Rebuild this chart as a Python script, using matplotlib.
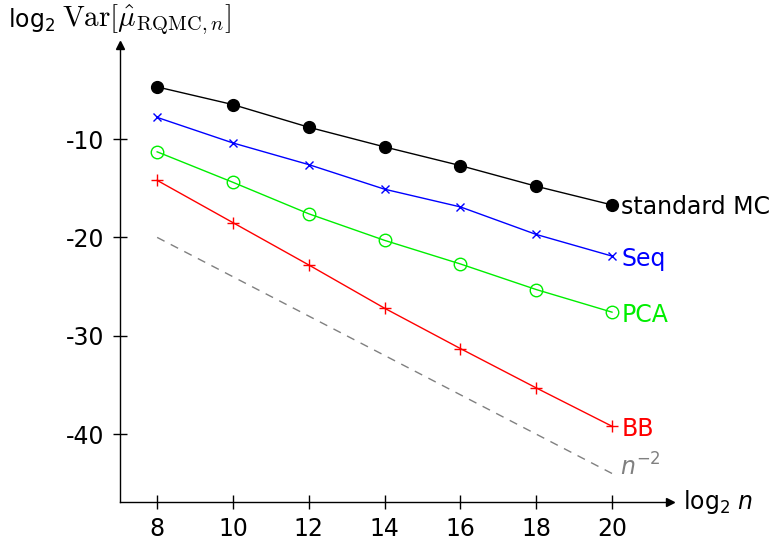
import numpy as np
import matplotlib.pyplot as plt

plt.rcParams['font.family'] = ['DejaVu Sans']
plt.rcParams['mathtext.fontset'] = 'dejavusans'
plt.rcParams['axes.unicode_minus'] = False

log2_n = [8, 10, 12, 14, 16, 18, 20]
std_mc = [-4.7, -6.5, -8.8, -10.8, -12.7, -14.8, -16.7]
seq = [-7.8, -10.4, -12.6, -15.1, -16.9, -19.7, -21.9]
pca = [-11.3, -14.4, -17.6, -20.3, -22.7, -25.3, -27.6]
bb = [-14.2, -18.5, -22.8, -27.2, -31.3, -35.3, -39.2]
ref_x = [8, 20]
ref_y = [-20, -44]

fig = plt.figure(figsize=(7.81, 5.43), dpi=100)
ax = fig.add_axes([120 / 781, 1 - 502 / 543, 550 / 781, 457 / 543])

ax.plot(log2_n, std_mc, color='black', lw=1, marker='o', ms=8.5, clip_on=False)
ax.plot(log2_n, seq, color='blue', lw=1, marker='x', ms=6, mew=1, clip_on=False)
ax.plot(log2_n, pca, color='#00ee00', lw=1, marker='o', ms=9, mfc='none', mew=1, clip_on=False)
ax.plot(log2_n, bb, color='red', lw=1, marker='+', ms=9, mew=1, clip_on=False)
ax.plot(ref_x, ref_y, color='gray', lw=1, ls=(0, (6, 5)))

fs = 17
ax.text(20.25, std_mc[-1], 'standard MC', color='black', fontsize=fs, va='center_baseline', ha='left')
ax.text(20.25, seq[-1], 'Seq', color='blue', fontsize=fs, va='center_baseline', ha='left')
ax.text(20.25, pca[-1], 'PCA', color='#00ee00', fontsize=fs, va='center_baseline', ha='left')
ax.text(20.25, bb[-1], 'BB', color='red', fontsize=fs, va='center_baseline', ha='left')
ax.text(20.2, ref_y[-1] + 0.7, r'$n^{-2}$', color='gray', fontsize=fs, va='center', ha='left')

ax.set_xlim(7.02, 21.53)
ax.set_ylim(-46.9, -0.44)
ax.set_xticks(log2_n)
ax.set_yticks([-10, -20, -30, -40])
ax.tick_params(direction='inout', length=10, width=1, labelsize=fs, pad=6)
for s in ['top', 'right']:
    ax.spines[s].set_visible(False)
for s in ['left', 'bottom']:
    ax.spines[s].set_linewidth(1)

# arrow heads
ax.plot(1, 0, '>k', ms=6, transform=ax.transAxes, clip_on=False)
ax.plot(0, 1, '^k', ms=6, transform=ax.transAxes, clip_on=False)

fig.text(683 / 781, 1 - 502 / 543, r'log$_2$ $n$', fontsize=fs, va='center', ha='left')
fig.text(8 / 781, 1 - 20 / 543, 'log$_2$', fontsize=fs, va='center', ha='left')
fig.text(62 / 781, 1 - 20 / 543, r'$\mathrm{Var}[\hat{\mu}_{\mathrm{RQMC},n}]$',
         fontsize=fs + 4, va='center', ha='left', math_fontfamily='cm')

fig.savefig('out.png', dpi=100)
